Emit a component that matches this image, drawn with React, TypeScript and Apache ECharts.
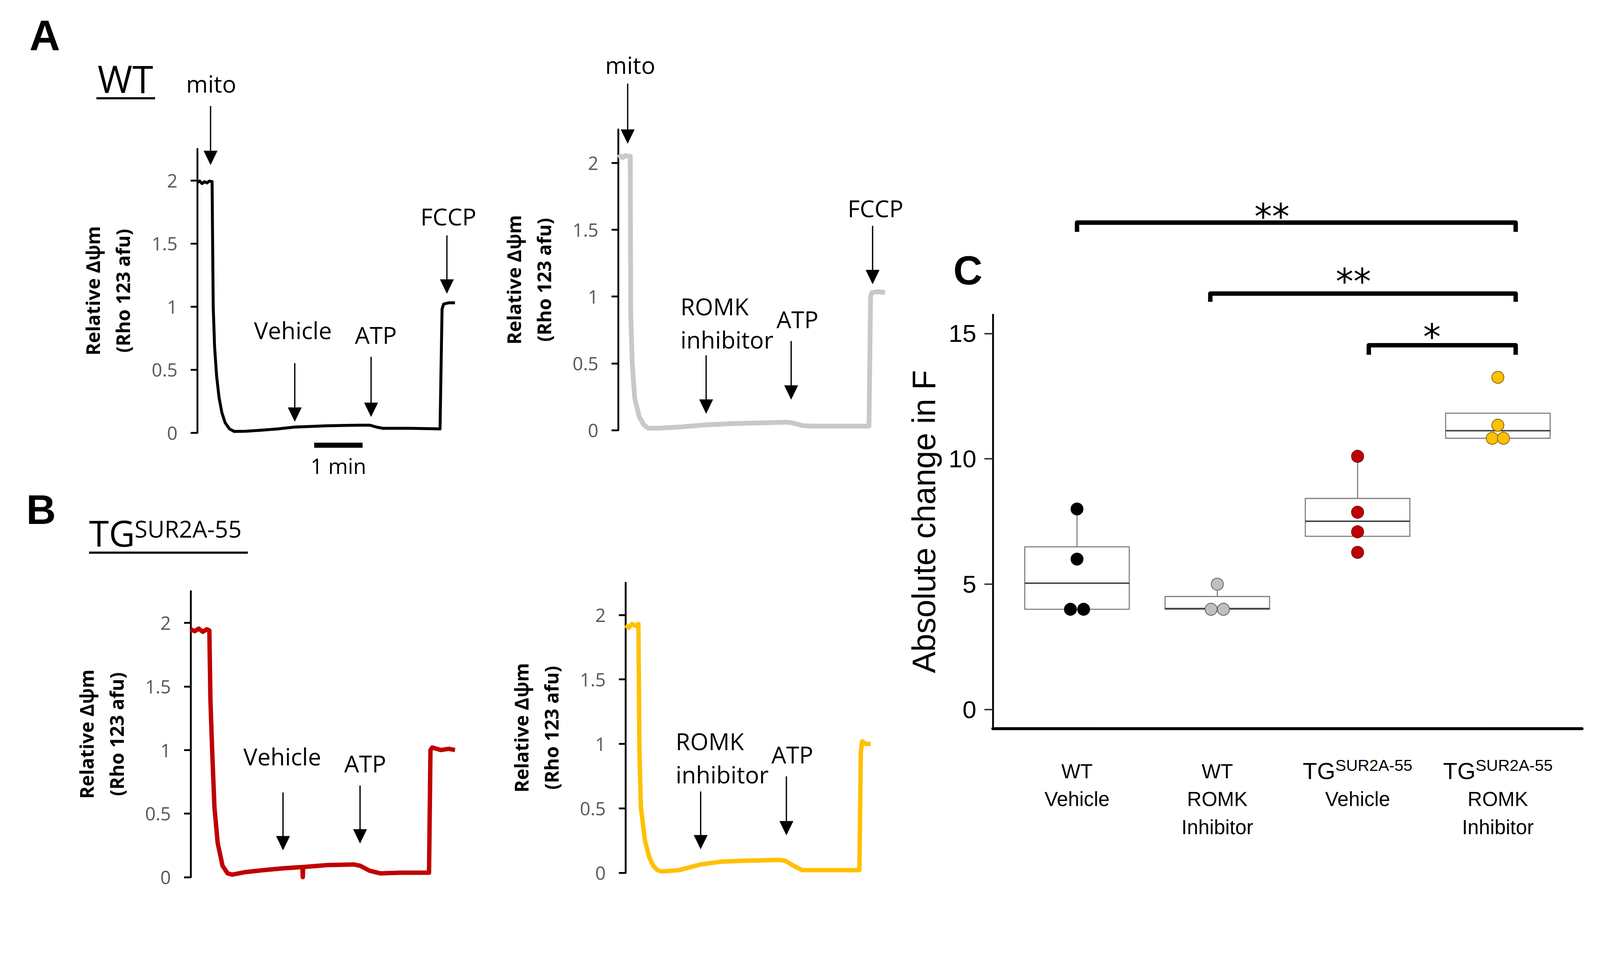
import React, { useEffect, useRef } from 'react';
import * as echarts from 'echarts';

const OPEN = '"Open Sans", "DejaVu Sans", sans-serif';
const ARIAL = '"Liberation Sans", Arial, sans-serif';
const PAGE_W = 4364;
const PAGE_H = 2475;

// ---------------- Panels A / B : Rho 123 traces  [time (s), relative ΔΨm] ----------------
const A1_TRACE = [
  [0, 1.985], [3, 1.995], [6, 1.975], [9, 1.99], [12, 1.98], [15, 1.995], [18.4, 1.99], [19.0, 1.55], [19.8, 1.0],
  [21.5, 0.68], [24, 0.45], [27, 0.28], [30.5, 0.16], [34.5, 0.08], [40, 0.03], [46, 0.01], [60, 0.012],
  [80, 0.02], [100, 0.03], [121, 0.045], [140, 0.05], [161, 0.055], [185, 0.058], [202, 0.06], [214, 0.06],
  [222, 0.045], [230, 0.035], [263, 0.035], [290, 0.032], [301, 0.03], [302.5, 0.6], [303.5, 0.98],
  [305.5, 1.02], [312, 1.03], [319.5, 1.03],
];
const A2_TRACE = [
  [0, 2.04], [3, 2.05], [6, 2.04], [9, 2.055], [12, 2.05], [15, 2.05], [15.6, 0.86], [17.5, 0.5], [20.5, 0.24],
  [26.2, 0.1], [31.8, 0.04], [37.5, 0.015], [51, 0.015], [80, 0.025], [109, 0.04], [145, 0.05], [183, 0.055],
  [209, 0.06], [216, 0.055], [228, 0.035], [239, 0.03], [270, 0.03], [311, 0.03], [313, 1.0], [314.5, 1.03],
  [322, 1.035], [331, 1.03],
];
const B1_TRACE = [
  [0, 1.95], [5, 1.935], [10, 1.955], [15, 1.93], [20, 1.95], [23.2, 1.94], [24.5, 1.4], [26.7, 0.99],
  [29.5, 0.55], [33.5, 0.27], [39.5, 0.09], [45.8, 0.03], [51.8, 0.02], [68, 0.04], [90, 0.055], [115, 0.07],
  [138.5, 0.08], [139, 0.0], [139.5, 0.08], [169.5, 0.095], [202, 0.1], [210, 0.09], [222, 0.05], [235, 0.03],
  [260, 0.035], [295.5, 0.035], [297.3, 1.0], [299.5, 1.02], [310, 1.0], [320, 1.01], [327.7, 1.0],
];
const B2_TRACE = [
  [0, 1.92], [4, 1.9], [8, 1.93], [12, 1.915], [16, 1.93], [16.6, 1.5], [17.3, 0.94], [19.1, 0.51],
  [24.1, 0.25], [29.5, 0.12], [34.5, 0.054], [39.8, 0.02], [45, 0.01], [66, 0.02], [93.6, 0.065], [118, 0.086],
  [146, 0.093], [191, 0.1], [198, 0.093], [208.6, 0.054], [219, 0.02], [250, 0.02], [290, 0.02], [291.8, 0.94],
  [293.5, 1.02], [298, 1.0], [304, 1.0],
];
const TRACE_T_MAX = [320, 331.4, 327.7, 304.1];
const TRACE_Y_MAX = 2.25;
const TRACE_Y_TICKS = [0, 0.5, 1, 1.5, 2];
const TRACE_COLORS = ['#000000', '#c8c8c8', '#c00000', '#ffc000'];

// drug additions: label, arrow time, label anchor (time, value), arrow from/to values
const A1_EVENTS = [
  { label: 'mito', t: 16.5, textT: 17.3, textV: 2.767, fromV: 2.59, toV: 2.122 },
  { label: 'Vehicle', t: 120.9, textT: 118.6, textV: 0.814, fromV: 0.552, toV: 0.087 },
  { label: 'ATP', t: 215.5, textT: 221.4, textV: 0.776, fromV: 0.602, toV: 0.125 },
  { label: 'FCCP', t: 309.5, textT: 311.4, textV: 1.715, fromV: 1.564, toV: 1.102 },
];
const A2_EVENTS = [
  { label: 'mito', t: 11.8, textT: 15, textV: 2.733, fromV: 2.593, toV: 2.143 },
  { label: 'ROMK\ninhibitor', t: 109.1, textT: 77.3, textV: 0.803, fromV: 0.56, toV: 0.123 },
  { label: 'ATP', t: 214.5, textT: 222.3, textV: 0.831, fromV: 0.667, toV: 0.228 },
  { label: 'FCCP', t: 315.5, textT: 319.1, textV: 1.66, fromV: 1.529, toV: 1.092 },
];
const B1_EVENTS = [
  { label: 'Vehicle', t: 114.5, textT: 113.6, textV: 0.949, fromV: 0.666, toV: 0.211 },
  { label: 'ATP', t: 210, textT: 216.4, textV: 0.894, fromV: 0.721, toV: 0.265 },
];
const B2_EVENTS = [
  { label: 'ROMK\ninhibitor', t: 93.2, textT: 62.3, textV: 0.892, fromV: 0.631, toV: 0.182 },
  { label: 'ATP', t: 199.5, textT: 206.8, textV: 0.919, fromV: 0.748, toV: 0.29 },
];
const SCALE_BAR = { t0: 145, t1: 205, v: -0.099, labelV: -0.262, label: '1 min' };

// ---------------- Panel C : absolute change in F ----------------
const C_GROUP_X = [1, 2, 3, 4];
const C_LABELS = [
  'WT\nVehicle',
  'WT\nROMK\nInhibitor',
  '{tg|TG}{sup|SUR2A-55}\nVehicle',
  '{tg|TG}{sup|SUR2A-55}\nROMK\nInhibitor',
];
const C_Q1 = [4.0, 4.0, 6.91, 10.82];
const C_MEDIAN = [5.04, 4.03, 7.51, 11.12];
const C_Q3 = [6.49, 4.51, 8.42, 11.82];
const C_WHISKER_HI = [8.0, 5.0, 10.1, 11.82];
const C_PTS_WT_VEH = [[1, 8.0], [1, 6.0], [0.953, 4.0], [1.047, 4.0]];
const C_PTS_WT_ROMK = [[2, 5.0], [1.956, 4.0], [2.044, 4.0]];
const C_PTS_TG_VEH = [[3, 10.1], [3, 7.87], [3, 7.09], [3, 6.27]];
const C_PTS_TG_ROMK = [[4, 13.25], [4, 11.34], [3.96, 10.82], [4.04, 10.82]];
const C_Y_TICKS = [0, 5, 10, 15];
const C_BRACKETS = [
  { x1: 1.0, x2: 4.127, y: 19.42, tip: 19.05, label: '**', labelX: 2.39, labelY: 19.93 },
  { x1: 1.95, x2: 4.127, y: 16.59, tip: 16.26, label: '**', labelX: 2.97, labelY: 17.35 },
  { x1: 3.08, x2: 4.127, y: 14.53, tip: 14.15, label: '*', labelX: 3.53, labelY: 15.13 },
];

const TRACE_GRIDS = [
  { left: 538, top: 406, width: 704, height: 774 },
  { left: 1686, top: 353, width: 729, height: 820 },
  { left: 520, top: 1612, width: 721, height: 780 },
  { left: 1706, top: 1589, width: 669, height: 791 },
];
const C_GRID = { left: 2708, top: 858, width: 1607, height: 1129 };

function eventSeries(idx: number, events: any[]) {
  return {
    type: 'custom',
    xAxisIndex: idx,
    yAxisIndex: idx,
    clip: false,
    silent: true,
    z: 6,
    data: events.map((e) => [e.t, e.toV]),
    renderItem: (params: any, api: any) => {
      const e = events[params.dataIndex];
      const top = api.coord([e.t, e.fromV]);
      const tip = api.coord([e.t, e.toV]);
      const txt = api.coord([e.textT, e.textV]);
      const multi = e.label.indexOf('\n') >= 0;
      return {
        type: 'group',
        children: [
          { type: 'line', shape: { x1: top[0], y1: top[1], x2: tip[0], y2: tip[1] - 30 }, style: { stroke: '#000', lineWidth: 3.5 } },
          {
            type: 'polygon',
            shape: { points: [[tip[0] - 19, tip[1] - 39], [tip[0] + 19, tip[1] - 39], [tip[0], tip[1]]] },
            style: { fill: '#000' },
          },
          {
            type: 'text',
            x: txt[0],
            y: txt[1],
            style: {
              text: e.label, fontSize: 64, fontFamily: OPEN, fill: '#000',
              align: multi ? 'left' : 'center', verticalAlign: 'middle', lineHeight: 91,
            },
          },
        ],
      };
    },
  };
}

function buildOption() {
  const traces = [A1_TRACE, A2_TRACE, B1_TRACE, B2_TRACE];
  const events = [A1_EVENTS, A2_EVENTS, B1_EVENTS, B2_EVENTS];
  const widths = [8, 13, 12, 12];

  const grid: any[] = TRACE_GRIDS.map((g) => ({ ...g, containLabel: false, outerBoundsMode: 'none' }));
  grid.push({ ...C_GRID, containLabel: false, outerBoundsMode: 'none' });

  const xAxis: any[] = TRACE_T_MAX.map((m, i) => ({ gridIndex: i, type: 'value', min: 0, max: m, show: false }));
  xAxis.push({
    gridIndex: 4, type: 'value', min: 0.4, max: 4.6,
    axisLine: { show: true, onZero: false, lineStyle: { color: '#000', width: 8 } },
    axisTick: { show: false },
    splitLine: { show: false },
    axisLabel: {
      customValues: C_GROUP_X,
      formatter: (v: number) => C_LABELS[Math.round(v) - 1] || '',
      margin: 78, fontSize: 55, lineHeight: 76, fontFamily: ARIAL, color: '#000',
      rich: {
        tg: { fontSize: 64, lineHeight: 76, fontFamily: ARIAL, color: '#000' },
        sup: { fontSize: 44, lineHeight: 44, verticalAlign: 'top', fontFamily: ARIAL, color: '#000' },
      },
    },
  });

  const yAxis: any[] = TRACE_T_MAX.map((_, i) => ({
    gridIndex: i, type: 'value', min: 0, max: TRACE_Y_MAX,
    axisLine: { show: true, onZero: false, lineStyle: { color: '#000', width: 5 } },
    axisTick: { show: true, customValues: TRACE_Y_TICKS, length: 18, lineStyle: { color: '#000', width: 5 } },
    axisLabel: { customValues: TRACE_Y_TICKS, color: '#595959', fontSize: 50, fontFamily: OPEN, margin: 54 },
    splitLine: { show: false },
    name: 'Relative Δψm\n(Rho 123 afu)',
    nameLocation: 'middle', nameRotate: 90, nameGap: 162, nameMoveOverlap: false,
    nameTextStyle: { fontSize: 52, fontWeight: 'bold', fontFamily: OPEN, color: '#000', lineHeight: 82 },
  }));
  yAxis.push({
    gridIndex: 4, type: 'value', min: -0.76, max: 15.75,
    axisLine: { show: true, onZero: false, lineStyle: { color: '#000', width: 5 } },
    axisTick: { show: true, customValues: C_Y_TICKS, length: 23, lineStyle: { color: '#333', width: 4 } },
    axisLabel: { customValues: C_Y_TICKS, color: '#000', fontSize: 68, fontFamily: ARIAL, margin: 45 },
    splitLine: { show: false },
    name: 'Absolute change in F',
    nameLocation: 'middle', nameRotate: 90, nameGap: 144, nameMoveOverlap: false,
    nameTextStyle: { fontSize: 88, fontFamily: ARIAL, color: '#000' },
  });

  const series: any[] = [];
  traces.forEach((tr, i) => {
    series.push({
      type: 'line', xAxisIndex: i, yAxisIndex: i, data: tr, symbol: 'none', showSymbol: false,
      clip: false, silent: true, lineStyle: { color: TRACE_COLORS[i], width: widths[i], join: 'round' }, z: 3,
    });
    series.push(eventSeries(i, events[i]));
  });

  // 1 min scale bar (panel A, WT trace)
  series.push({
    type: 'custom', xAxisIndex: 0, yAxisIndex: 0, clip: false, silent: true,
    data: [[SCALE_BAR.t0, SCALE_BAR.v]],
    renderItem: (_p: any, api: any) => {
      const a = api.coord([SCALE_BAR.t0, SCALE_BAR.v]);
      const b = api.coord([SCALE_BAR.t1, SCALE_BAR.v]);
      const l = api.coord([(SCALE_BAR.t0 + SCALE_BAR.t1) / 2, SCALE_BAR.labelV]);
      return {
        type: 'group',
        children: [
          { type: 'line', shape: { x1: a[0], y1: a[1], x2: b[0], y2: b[1] }, style: { stroke: '#000', lineWidth: 14 } },
          { type: 'text', x: l[0], y: l[1], style: { text: SCALE_BAR.label, fontSize: 58, fontFamily: OPEN, fill: '#000', align: 'center', verticalAlign: 'middle' } },
        ],
      };
    },
  });

  // Panel C boxes
  series.push({
    type: 'custom', xAxisIndex: 4, yAxisIndex: 4, silent: true, z: 4,
    data: C_GROUP_X.map((x, i) => [x, C_Q1[i], C_MEDIAN[i], C_Q3[i], C_WHISKER_HI[i]]),
    encode: { x: 0, y: [1, 2, 3, 4] },
    renderItem: (_p: any, api: any) => {
      const x = api.value(0);
      const q1 = api.value(1), med = api.value(2), q3 = api.value(3), hi = api.value(4);
      const hw = api.size([0.745, 0])[0] / 2;
      const pQ1 = api.coord([x, q1]);
      const pQ3 = api.coord([x, q3]);
      const pMed = api.coord([x, med]);
      const pHi = api.coord([x, hi]);
      const children: any[] = [];
      if (hi > q3) {
        children.push({ type: 'line', shape: { x1: pQ3[0], y1: pQ3[1], x2: pHi[0], y2: pHi[1] }, style: { stroke: '#7f7f7f', lineWidth: 3 } });
      }
      children.push({
        type: 'rect', shape: { x: pQ1[0] - hw, y: pQ3[1], width: 2 * hw, height: pQ1[1] - pQ3[1] },
        style: { fill: '#fff', stroke: '#7f7f7f', lineWidth: 3 },
      });
      children.push({ type: 'line', shape: { x1: pMed[0] - hw, y1: pMed[1], x2: pMed[0] + hw, y2: pMed[1] }, style: { stroke: '#404040', lineWidth: 4 } });
      return { type: 'group', children };
    },
  });

  const pointSets = [
    { data: C_PTS_WT_VEH, color: '#000000', border: '#000000' },
    { data: C_PTS_WT_ROMK, color: '#bfbfbf', border: '#595959' },
    { data: C_PTS_TG_VEH, color: '#c00000', border: '#6b0000' },
    { data: C_PTS_TG_ROMK, color: '#ffc000', border: '#7f6000' },
  ];
  pointSets.forEach((s) => {
    series.push({
      type: 'scatter', xAxisIndex: 4, yAxisIndex: 4, data: s.data, symbol: 'circle', symbolSize: 33,
      silent: true, z: 8, itemStyle: { color: s.color, borderColor: s.border, borderWidth: 2, opacity: 1 },
    });
  });

  // significance brackets
  series.push({
    type: 'custom', xAxisIndex: 4, yAxisIndex: 4, clip: false, silent: true, z: 9,
    data: C_BRACKETS.map((b) => [b.x1, b.y]),
    renderItem: (p: any, api: any) => {
      const b = C_BRACKETS[p.dataIndex];
      const a0 = api.coord([b.x1, b.tip]);
      const a1 = api.coord([b.x1, b.y]);
      const a2 = api.coord([b.x2, b.y]);
      const a3 = api.coord([b.x2, b.tip]);
      const t = api.coord([b.labelX, b.labelY]);
      return {
        type: 'group',
        children: [
          { type: 'polyline', shape: { points: [a0, a1, a2, a3] }, style: { stroke: '#000', lineWidth: 12, fill: null, lineJoin: 'round', lineCap: 'butt' } },
          { type: 'text', x: t[0], y: t[1] + 19, style: { text: b.label, fontSize: 96, fontFamily: '"DejaVu Sans", sans-serif', fill: '#000', align: 'center', verticalAlign: 'middle' } },
        ],
      };
    },
  });

  const graphic = {
    elements: [
      { type: 'text', x: 122, y: 96, style: { text: 'A', fontSize: 116, fontWeight: 'bold', fontFamily: ARIAL, fill: '#000', align: 'center', verticalAlign: 'middle' } },
      { type: 'text', x: 112, y: 1390, style: { text: 'B', fontSize: 112, fontWeight: 'bold', fontFamily: ARIAL, fill: '#000', align: 'center', verticalAlign: 'middle' } },
      { type: 'text', x: 2640, y: 738, style: { text: 'C', fontSize: 110, fontWeight: 'bold', fontFamily: ARIAL, fill: '#000', align: 'center', verticalAlign: 'middle' } },
      { type: 'text', x: 266, y: 214, style: { text: 'WT', fontSize: 103, fontFamily: OPEN, fill: '#000', align: 'left', verticalAlign: 'middle' } },
      { type: 'line', shape: { x1: 263, y1: 268, x2: 423, y2: 268 }, style: { stroke: '#000', lineWidth: 6 } },
      { type: 'text', x: 243, y: 1453, style: { text: 'TG', fontSize: 98, fontFamily: OPEN, fill: '#000', align: 'left', verticalAlign: 'middle' } },
      { type: 'text', x: 367, y: 1442, style: { text: 'SUR2A-55', fontSize: 64, fontFamily: OPEN, fill: '#000', align: 'left', verticalAlign: 'middle' } },
      { type: 'line', shape: { x1: 243, y1: 1507, x2: 676, y2: 1507 }, style: { stroke: '#000', lineWidth: 6 } },
    ],
  };

  return {
    animation: false,
    backgroundColor: '#ffffff',
    grid, xAxis, yAxis, series, graphic,
  };
}

function fitScale() {
  if (typeof window === 'undefined') return 1;
  const w = window.innerWidth || PAGE_W;
  const h = window.innerHeight || PAGE_H;
  return Math.min(w / PAGE_W, h / PAGE_H);
}

export default function App() {
  const ref = useRef<HTMLDivElement>(null);
  const scale = fitScale();
  useEffect(() => {
    const chart = echarts.init(ref.current as HTMLDivElement, null, { renderer: 'svg', width: PAGE_W, height: PAGE_H });
    chart.setOption(buildOption() as any);
    return () => chart.dispose();
  }, []);
  return (
    <div style={{ position: 'fixed', left: 0, top: 0, width: '100vw', height: '100vh', overflow: 'hidden', background: '#fff' }}>
      <div
        ref={ref}
        style={{ width: PAGE_W, height: PAGE_H, transform: `scale(${scale})`, transformOrigin: '0 0', background: '#fff' }}
      />
    </div>
  );
}
